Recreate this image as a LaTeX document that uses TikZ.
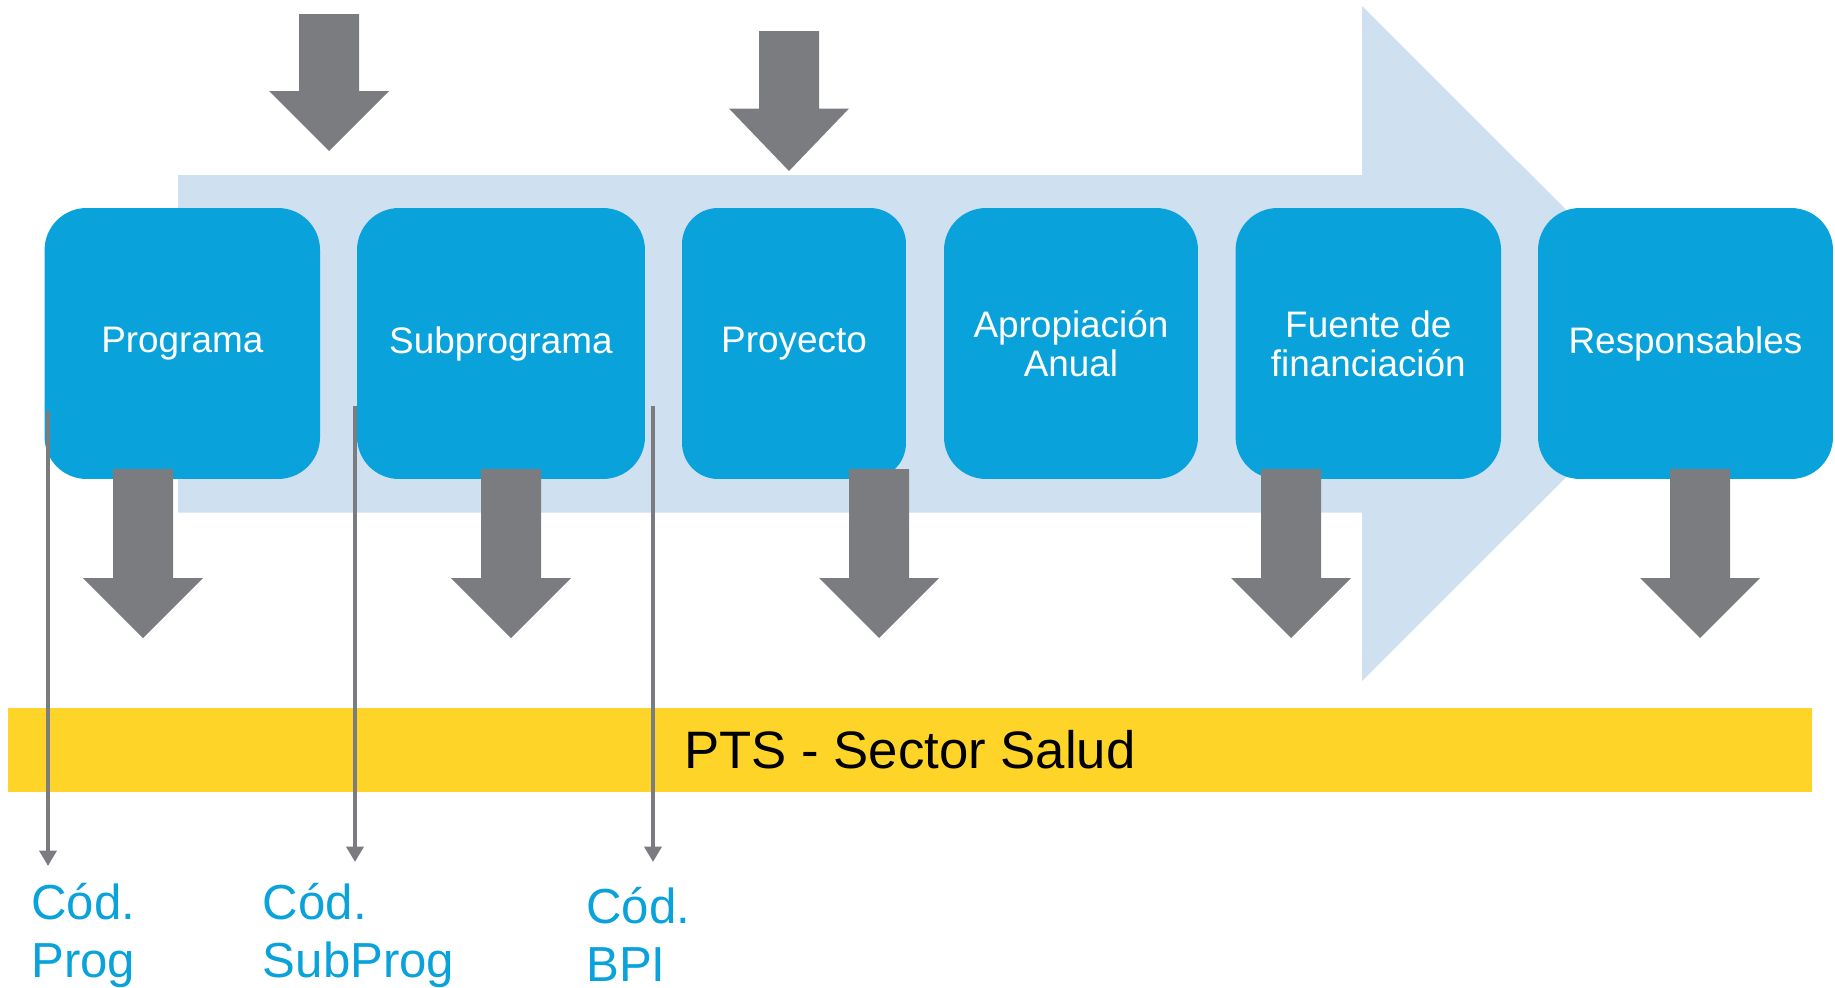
\documentclass[tikz,border=0pt]{standalone}
\usepackage{fontspec}
\setmainfont{Liberation Sans}
\usetikzlibrary{arrows.meta}
\definecolor{boxblue}{HTML}{0AA2DA}
\definecolor{bandblue}{HTML}{CFE0F1}
\definecolor{arrgray}{HTML}{7B7C80}
\definecolor{ptsyellow}{HTML}{FDD427}
\newcommand{\fatdown}[4]{\fill[arrgray] (#1-30,#3) -- (#1+30,#3) -- (#1+30,#4) -- (#1+60,#4) -- (#1,#2) -- (#1-60,#4) -- (#1-30,#4) -- cycle;}
\begin{document}
\begin{tikzpicture}[x=0.02cm,y=-0.02cm,
  stage/.style={fill=boxblue, text=white, rounded corners=0.84cm, minimum height=5.42cm, inner sep=0pt, align=center, font=\fontsize{21}{22.2}\selectfont},
  code/.style={text=boxblue, anchor=base west, align=left, inner sep=0pt, font=\fontsize{28}{32.6}\selectfont},
  thinarrow/.style={draw=arrgray, line width=0.08cm, -{Triangle[width=0.34cm,length=0.31cm]}}]
\useasboundingbox (0,0) rectangle (1835,987);
% big light arrow
\fill[bandblue] (178,175) -- (1362,175) -- (1362,6) -- (1700,343.5) -- (1362,681) -- (1362,512.5) -- (178,512.5) -- cycle;
% top arrows
\fatdown{329}{151}{14}{91}
\fatdown{789}{171}{31}{108.5}
% stage boxes
\node[stage, minimum width=5.51cm] (prog) at (182.3,343.5) {Programa};
\node[stage, minimum width=5.76cm] (sub) at (501,343.5) {Subprograma};
\node[stage, minimum width=4.48cm, rounded corners=0.72cm] (proy) at (794,343.5) {Proyecto};
\node[stage, minimum width=5.08cm] (aprop) at (1071,343.5) {Apropiación\\Anual};
\node[stage, minimum width=5.31cm] (fuente) at (1368.3,343.5) {Fuente de\\financiación};
\node[stage, minimum width=5.9cm] (resp) at (1685.5,343.5) {Responsables};
% down arrows
\fatdown{143}{638}{469}{578}
\fatdown{511}{638}{469}{578}
\fatdown{879}{638}{469}{578}
\fatdown{1291}{638}{469}{578}
\fatdown{1700}{638}{469}{578}
% yellow band
\node[fill=ptsyellow, minimum width=36.08cm, minimum height=1.69cm, inner sep=0pt, font=\fontsize{30}{34}\selectfont] (pts) at (910,750) {PTS - Sector Salud};
% code labels
\node[code] (cprog) at (31,977) {Cód.\\Prog};
\node[code] (csub) at (262.5,977) {Cód.\\SubProg};
\node[code] (cbpi) at (586,981) {Cód.\\BPI};
% thin arrows
\coordinate (s1) at (48,411);
\coordinate (e1) at (48,866);
\coordinate (s2) at (355,406);
\coordinate (e2) at (355,862);
\coordinate (s3) at (653,406);
\coordinate (e3) at (653,862);
\draw[thinarrow] (s1) -- (e1);
\draw[thinarrow] (s2) -- (e2);
\draw[thinarrow] (s3) -- (e3);
\end{tikzpicture}
\end{document}
